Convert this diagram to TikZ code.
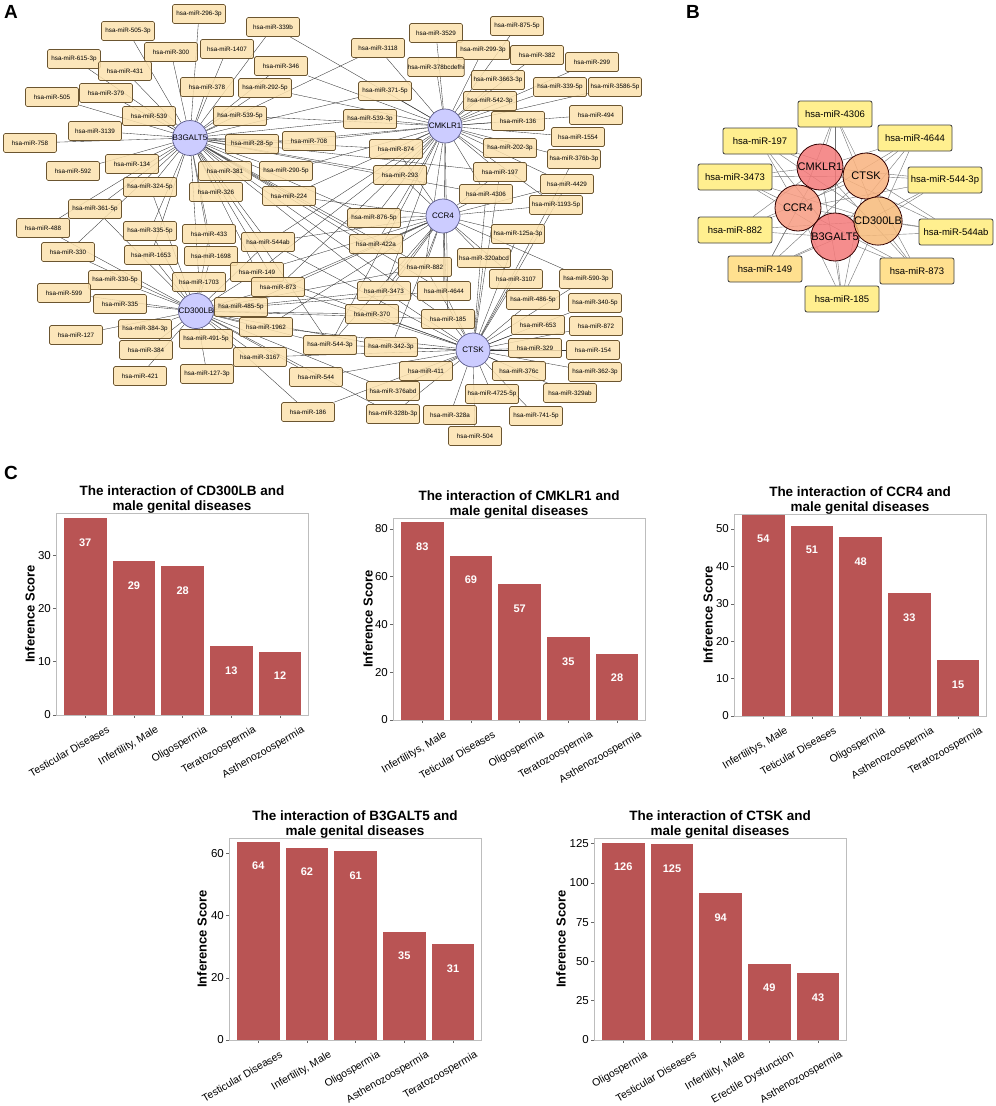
\documentclass[tikz,border=0pt]{standalone}
\usepackage{fontspec}
\setmainfont{Liberation Sans}
\usetikzlibrary{positioning}
\pgfdeclarelayer{bg}
\pgfsetlayers{bg,main}

\definecolor{mirfill}{HTML}{FCE2AE}
\definecolor{mirline}{HTML}{6B5530}
\definecolor{genefill}{HTML}{CCCCFF}
\definecolor{geneline}{HTML}{5A5A8A}
\definecolor{hubred}{HTML}{F47A7A}
\definecolor{hubsalmon}{HTML}{F79C82}
\definecolor{huborange}{HTML}{F9B27E}
\definecolor{hubtan}{HTML}{F6BA7A}
\definecolor{mirBfill}{HTML}{FFEF8F}
\definecolor{mirBdark}{HTML}{FFE08F}
\definecolor{barred}{HTML}{B95454}
\definecolor{framegray}{HTML}{BDBDBD}

\tikzset{
  mira/.style={draw=mirline, fill=mirfill, fill opacity=0.85, text opacity=1,
    rounded corners=1.5pt, minimum width=53pt, minimum height=19pt,
    inner sep=0pt, line width=0.7pt, font=\fontsize{6.3}{7}\selectfont},
  genea/.style={circle, draw=geneline, fill=genefill, minimum size=34pt,
    inner sep=0pt, line width=0.7pt, font=\fontsize{8}{9}\selectfont},
  edgea/.style={draw=black!80, line width=0.35pt},
  mirb/.style={draw=black!75, fill=mirBfill, rounded corners=2pt,
    minimum width=74pt, minimum height=26pt, inner sep=0pt,
    line width=0.8pt, font=\fontsize{9.5}{10}\selectfont},
  geneb/.style={circle, draw=black!80!red, minimum size=46pt, inner sep=0pt,
    line width=0.8pt, fill opacity=0.85, text opacity=1,
    font=\fontsize{11}{12}\selectfont},
  edgeb/.style={draw=black!55, line width=0.4pt},
  panellab/.style={font=\fontsize{19}{19}\bfseries\selectfont},
  charttitle/.style={anchor=south, align=center, inner sep=0pt,
    font=\fontsize{13.5}{15.5}\bfseries\selectfont},
  ticklab/.style={anchor=east, inner sep=0pt, font=\fontsize{11.5}{12}\selectfont},
  xlab/.style={anchor=north east, rotate=30, inner sep=0pt,
    font=\fontsize{10.5}{11}\selectfont},
  vallab/.style={text=white, font=\fontsize{11}{12}\bfseries\selectfont},
  ytitle/.style={rotate=90, font=\fontsize{13}{14}\bfseries\selectfont},
}

% #1 panel left, #2 zero line, #3 px per unit, #4 ticks, #5 bars, #6 gene, #7 y-title shift
\newcommand{\scorechart}[7]{%
  \foreach \tk in {#4} {%
    \draw[black!60, line width=0.6pt] (#1-3,#2-\tk*#3) -- (#1,#2-\tk*#3);
    \node[ticklab] at (#1-5,#2-\tk*#3) {\tk};
  }
  \foreach \val/\lab [count=\i from 0] in {#5} {%
    \pgfmathsetmacro{\bx}{#1+7.5+48.7*\i}
    \pgfmathsetmacro{\bt}{#2-\val*#3}
    \draw[fill=barred, draw=white, line width=0.9pt] (\bx,#2) rectangle (\bx+43.5,\bt);
    \draw[black!60, line width=0.6pt] (\bx+21.75,#2) -- ++(0,3);
    \node[vallab] at (\bx+21.75,\bt+25) {\val};
    \node[xlab] at (\bx+43,#2+10) {\lab};
  }
  \draw[framegray, line width=0.8pt] (#1,#2) rectangle ++(252,-202);
  \node[ytitle] at (#1-#7,#2-101) {Inference Score};
  \node[charttitle] at (#1+126,#2-201) {The interaction of #6 and\\male genital diseases};
}

\begin{document}
\begin{tikzpicture}[x=1pt, y=-1pt]
  \useasboundingbox (0,0) rectangle (996,1106);
  \begin{pgfonlayer}{bg}
    \fill[white] (0,0) rectangle (996,1106);
  \end{pgfonlayer}

  %---- panel labels
  \node[panellab] at (11,12) {A};
  \node[panellab] at (693,12) {B};
  \node[panellab] at (11,473) {C};

  %---- A: genes
  \node[genea] (aB3GALT5) at (190,138) {B3GALT5};
  \node[genea] (aCMKLR1)  at (445,126) {CMKLR1};
  \node[genea] (aCCR4)    at (443,216) {CCR4};
  \node[genea] (aCD300LB) at (196,311) {CD300LB};
  \node[genea] (aCTSK)    at (473,350) {CTSK};

  %---- A: miRNAs
  \foreach \x/\y/\t in {
    199/14/296-3p, 273/27/339b, 128/31/505-3p, 171/52/300, 227/49/1407,
    74/59/615-3p, 125/71/431, 281/66/346, 52/97/505, 106/93/379,
    207/87/378, 265/88/292-5p, 149/116/539, 240/116/539-5p, 95/131/3139,
    30/143/758, 252/144/28-5p, 309/141/708, 132/164/134, 73/171/592,
    225/171/381, 286/171/290-5p, 150/187/324-5p, 216/192/326, 289/196/224,
    95/209/361-5p, 43/228/488, 150/231/335-5p, 209/234/433, 268/242/544ab,
    68/252/330, 151/255/1653, 211/256/1698, 257/272/149, 199/282/1703,
    278/287/873, 115/280/330-5p, 64/293/599, 120/304/335, 241/307/485-5p,
    266/327/1962, 76/335/127, 145/329/384-3p, 206/339/491-5p, 146/350/384,
    260/357/3167, 330/345/544-3p, 207/374/127-3p, 140/376/421, 316/377/544,
    308/412/186,
    378/48/3118, 385/91/371-5p, 370/119/539-3p, 396/149/874, 400/175/293,
    374/218/876-5p, 376/244/422a, 384/291/3473, 372/314/370, 391/347/342-3p,
    393/391/376abd, 393/414/328b-3p,
    436/33/3529, 517/26/875-5p, 483/50/299-3p, 537/55/382, 436/67/378bcdefhi,
    592/62/299, 498/80/3663-3p, 560/87/339-5p, 615/87/3586-5p, 490/101/542-3p,
    518/121/136, 596/115/494, 578/137/1554, 510/148/202-3p, 574/159/376b-3p,
    500/172/197, 567/184/4429, 486/194/4306, 556/205/1193-5p,
    518/234/125a-3p, 484/258/320abcd, 425/267/882, 516/279/3107, 586/279/590-3p,
    444/291/4644, 533/300/486-5p, 595/303/340-5p, 448/319/185, 538/325/653,
    596/326/872, 535/348/329, 593/350/154, 426/371/411, 519/371/376c,
    595/372/362-3p, 492/394/4725-5p, 570/393/329ab, 450/415/328a,
    536/416/741-5p, 475/436/504}
    \node[mira] (a\t) at (\x,\y) {hsa-miR-\t};

  %---- A: interactions
  \begin{pgfonlayer}{bg}
  \foreach \g/\lst in {
    B3GALT5/{296-3p,505-3p,300,1407,615-3p,431,505,379,378,539,3139,758,134,
      592,324-5p,361-5p,335-5p,539-5p,28-5p,381,326,292-5p,346,339b,708,
      290-5p,224,433,1698,1653,488,330,544ab,149,873,197,4306,882,3473,185,
      544-3p,4644,539-3p,874,293,876-5p,422a,3118,371-5p,1703},
    CD300LB/{330,330-5p,599,335,127,384-3p,384,421,491-5p,127-3p,485-5p,1962,
      3167,1703,1653,433,1698,544,186,149,873,544ab,544-3p,370,342-3p,488,
      361-5p,335-5p,324-5p,882,3473,185,4644,328b-3p,376abd},
    CMKLR1/{3529,875-5p,299-3p,382,378bcdefhi,299,3663-3p,339-5p,3586-5p,
      542-3p,539-3p,371-5p,3118,136,494,1554,874,202-3p,376b-3p,293,197,4429,
      4306,1193-5p,876-5p,422a,539-5p,28-5p,708,290-5p,292-5p,346,339b,224,
      882,3473,4644,185,149,873,544ab,544-3p},
    CCR4/{125a-3p,320abcd,882,4644,3473,185,4306,197,876-5p,422a,293,874,
      1193-5p,4429,3107,590-3p,544ab,149,873,544-3p,1962,485-5p,224,370,342-3p},
    CTSK/{3107,486-5p,340-5p,653,872,329,154,376c,362-3p,329ab,4725-5p,741-5p,
      504,328a,328b-3p,376abd,411,342-3p,370,185,4644,882,3473,544-3p,544,186,
      3167,320abcd,125a-3p,590-3p,4306,197,544ab,149,873,1962,376b-3p,4429}}
    \foreach \m in \lst
      \draw[edgea] (a\g) -- (a\m);
  \end{pgfonlayer}

  %---- B: shared miRNAs and hubs
  \foreach \x/\y/\t in {835/114/4306, 760/141/197, 915/138/4644, 735/177/3473,
    945/180/544-3p, 735/230/882, 956/232/544ab, 842/299/185}
    \node[mirb] (b\t) at (\x,\y) {hsa-miR-\t};
  \node[mirb, fill=mirBdark] (b149) at (765,269) {hsa-miR-149};
  \node[mirb, fill=mirBdark] (b873) at (917,271) {hsa-miR-873};

  \node[geneb, fill=hubred]    (bCMKLR1)  at (820,167) {CMKLR1};
  \node[geneb, fill=huborange] (bCTSK)    at (866,176) {CTSK};
  \node[geneb, fill=hubsalmon] (bCCR4)    at (798,208) {CCR4};
  \node[geneb, fill=hubred]    (bB3GALT5) at (835,237) {B3GALT5};
  \node[geneb, fill=hubtan]    (bCD300LB) at (878,221) {CD300LB};

  \begin{pgfonlayer}{bg}
  \foreach \m in {4306,197,4644,3473,544-3p,882,544ab,149,873,185}
    \foreach \g in {CMKLR1,CTSK,CCR4,B3GALT5,CD300LB}
      \draw[edgeb] (b\m) -- (b\g);
  \end{pgfonlayer}

  %---- C: inference score charts
  \scorechart{56}{715}{5.33}{0,10,20,30}
    {37/Testicular Diseases, 29/{Infertility, Male}, 28/Oligospermia,
     13/Teratozoospermia, 12/Asthenozoospermia}{CD300LB}{26}
  \scorechart{393}{720}{2.39}{0,20,40,60,80}
    {83/{Infertilitys, Male}, 69/Teticular Diseases, 57/Oligospermia,
     35/Teratozoospermia, 28/Asthenozoospermia}{CMKLR1}{25}
  \scorechart{734}{716}{3.74}{0,10,20,30,40,50}
    {54/{Infertilitys, Male}, 51/Teticular Diseases, 48/Oligospermia,
     33/Asthenozoospermia, 15/Teratozoospermia}{CCR4}{26}
  \scorechart{229}{1040}{3.11}{0,20,40,60}
    {64/Testicular Diseases, 62/{Infertility, Male}, 61/Oligospermia,
     35/Asthenozoospermia, 31/Teratozoospermia}{B3GALT5}{27}
  \scorechart{594}{1040}{1.571}{0,25,50,75,100,125}
    {126/Oligospermia, 125/Testicular Diseases, 94/{Infertility, Male},
     49/Erectile Dysfunction, 43/Asthenozoospermia}{CTSK}{33}
\end{tikzpicture}
\end{document}
